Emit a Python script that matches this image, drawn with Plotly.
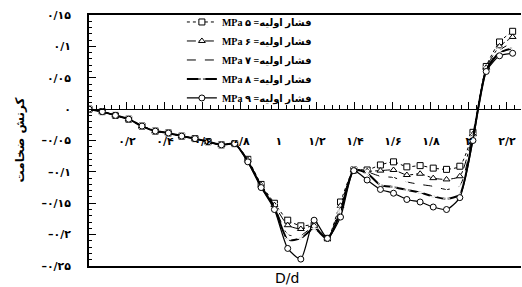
import plotly.graph_objects as go

# D/d positions
x_vals = [0, 0.07, 0.139, 0.209, 0.279, 0.349, 0.418, 0.488, 0.558, 0.627, 0.697,
          0.767, 0.836, 0.906, 0.976, 1.046, 1.115, 1.185, 1.255, 1.324, 1.394,
          1.464, 1.534, 1.603, 1.673, 1.743, 1.812, 1.882, 1.952, 2.021, 2.091,
          2.161, 2.23]

p5 = [0.0, -0.004, -0.010, -0.016, -0.027, -0.035, -0.038, -0.043, -0.047, -0.052, -0.057,
      -0.055, -0.080, -0.120, -0.150, -0.177, -0.186, -0.185, -0.206, -0.148, -0.097,
      -0.097, -0.089, -0.084, -0.092, -0.090, -0.094, -0.096, -0.091, -0.037, 0.068,
      0.107, 0.124]
p6 = [0.0, -0.004, -0.010, -0.016, -0.027, -0.035, -0.038, -0.043, -0.047, -0.052, -0.057,
      -0.055, -0.081, -0.121, -0.153, -0.185, -0.191, -0.186, -0.206, -0.154, -0.097,
      -0.099, -0.098, -0.097, -0.105, -0.103, -0.110, -0.112, -0.107, -0.040, 0.066,
      0.100, 0.115]
p7 = [0.0, -0.004, -0.010, -0.016, -0.027, -0.035, -0.038, -0.043, -0.047, -0.052, -0.057,
      -0.055, -0.082, -0.122, -0.155, -0.200, -0.201, -0.188, -0.207, -0.159, -0.097,
      -0.100, -0.107, -0.109, -0.116, -0.120, -0.123, -0.128, -0.122, -0.043, 0.064,
      0.094, 0.106]
p8 = [0.0, -0.004, -0.010, -0.016, -0.027, -0.035, -0.038, -0.043, -0.047, -0.052, -0.057,
      -0.055, -0.083, -0.123, -0.157, -0.208, -0.206, -0.190, -0.207, -0.164, -0.097,
      -0.102, -0.121, -0.124, -0.129, -0.133, -0.139, -0.143, -0.136, -0.046, 0.062,
      0.090, 0.097]
p9 = [0.0, -0.004, -0.010, -0.016, -0.027, -0.035, -0.038, -0.043, -0.047, -0.052, -0.057,
      -0.055, -0.084, -0.125, -0.160, -0.222, -0.239, -0.177, -0.206, -0.172, -0.098,
      -0.113, -0.128, -0.134, -0.144, -0.148, -0.156, -0.160, -0.141, -0.050, 0.060,
      0.085, 0.089]

series_names = ["\u202bفشار اولیه= ۵ MPa\u202c", "\u202bفشار اولیه= ۶ MPa\u202c",
                "\u202bفشار اولیه= ۷ MPa\u202c", "\u202bفشار اولیه= ۸ MPa\u202c",
                "\u202bفشار اولیه= ۹ MPa\u202c"]

x_tickvals = [0.2, 0.4, 0.6, 0.8, 1.0, 1.2, 1.4, 1.6, 1.8, 2.0, 2.2]
x_ticktext = ["۰/۲", "۰/۴", "۰/۶", "۰/۸", "۱", "۱/۲", "۱/۴", "۱/۶", "۱/۸", "۲", "۲/۲"]
y_tickvals = [0.15, 0.1, 0.05, 0, -0.05, -0.1, -0.15, -0.2, -0.25]
y_ticktext = ["۰/۱۵", "۰/۱", "۰/۰۵", "۰", "–۰/۰۵", "–۰/۱", "–۰/۱۵", "–۰/۲", "–۰/۲۵"]

x_title = "D/d"
y_title = "کرنش ضخامت"

styles = [
    dict(symbol="square", dash="dot", width=1),
    dict(symbol="triangle-up", dash="dashdot", width=1),
    dict(symbol="x-thin-open", dash="dash", width=1),
    dict(symbol="asterisk-open", dash="solid", width=2),
    dict(symbol="circle", dash="solid", width=1.2),
]

fig = go.Figure()
for ys, name, st in zip([p5, p6, p7, p8, p9], series_names, styles):
    fig.add_trace(go.Scatter(
        x=x_vals, y=ys, name=name, mode="lines+markers",
        line=dict(color="black", width=st["width"], dash=st["dash"], shape="spline", smoothing=0.6),
        marker=dict(symbol=st["symbol"], size=6, color="white",
                    line=dict(color="black", width=1)),
    ))

# overlay axis along the zero line carrying the D/d ticks
fig.add_trace(go.Scatter(x=[0], y=[0], xaxis="x2", mode="markers",
                         marker=dict(opacity=0), showlegend=False, hoverinfo="skip"))

tick_font = dict(family="DejaVu Sans", size=11, color="black", weight="bold")

fig.update_layout(
    width=522, height=287,
    margin=dict(l=89, r=1, t=15, b=21),
    paper_bgcolor="white", plot_bgcolor="white",
    showlegend=True,
    legend=dict(x=0.215, y=1.03, xanchor="left", yanchor="top",
                bgcolor="rgba(0,0,0,0)", borderwidth=0,
                font=dict(family="Liberation Serif, DejaVu Sans", size=10, color="black", weight="bold"),
                itemwidth=30),
    xaxis=dict(range=[0, 2.274], showline=True, mirror=True, linecolor="black", linewidth=1.5,
               showgrid=False, zeroline=False, ticks="", showticklabels=False),
    xaxis2=dict(range=[0, 2.274], overlaying="x", anchor="free", position=0.625, side="bottom",
                showline=True, linecolor="black", linewidth=1.2, showgrid=False, zeroline=False,
                tickmode="array", tickvals=x_tickvals, ticktext=x_ticktext,
                ticks="inside", ticklen=7, tickwidth=1.2, tickcolor="black",
                minor=dict(ticks="inside", ticklen=4, dtick=0.04, tick0=0, tickcolor="black", tickwidth=1),
                tickfont=tick_font, ticklabelstandoff=22),
    yaxis=dict(range=[-0.25, 0.15], showline=True, linecolor="black", linewidth=1.5,
               showgrid=False, zeroline=False,
               tickmode="array", tickvals=y_tickvals, ticktext=y_ticktext,
               ticks="inside", ticklen=7, tickwidth=1.2, tickcolor="black",
               minor=dict(ticks="inside", ticklen=3, dtick=0.01, tick0=0, tickcolor="black", tickwidth=1),
               tickfont=tick_font, ticklabelstandoff=14),
    annotations=[
        dict(text=x_title, xref="paper", yref="paper", x=(287 - 89) / 432, y=-0.046,
             xanchor="center", yanchor="middle", showarrow=False,
             font=dict(family="DejaVu Sans", size=14, color="black")),
        dict(text=y_title, xref="paper", yref="paper", x=(19 - 89) / 432, y=0.5,
             xanchor="center", yanchor="middle", showarrow=False, textangle=-90,
             font=dict(family="DejaVu Sans", size=12, color="black", weight="bold")),
    ],
)

fig.write_html("out.html", config={"displayModeBar": False},
               post_script="document.body.style.margin='0';")
